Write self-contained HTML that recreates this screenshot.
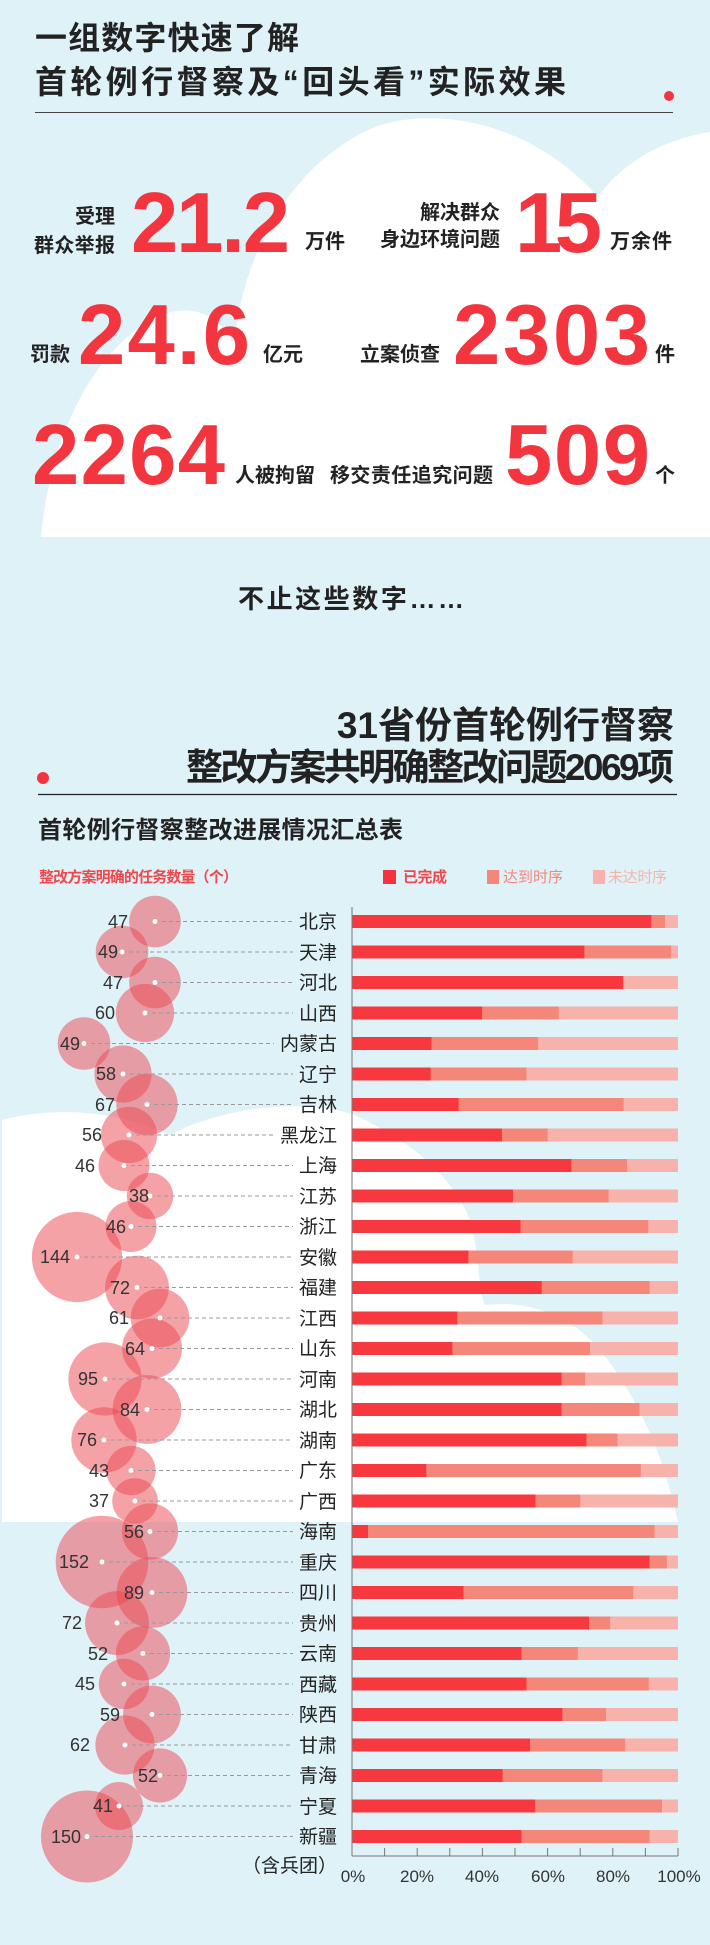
<!DOCTYPE html>
<html><head><meta charset="utf-8"><style>
html,body{margin:0;padding:0;background:#dff2f8}
svg{display:block}
text{font-family:"Liberation Sans","Noto Sans CJK SC",sans-serif}
.t{font-weight:bold;fill:#222}
.n{font-weight:bold;fill:#f2353f;font-size:85px}
.s{font-weight:bold;fill:#222;font-size:20px}
.p{font-size:19px;fill:#222;text-anchor:end}
.v{font-size:18px;fill:#333;text-anchor:end}
.ax{font-size:17px;fill:#333;text-anchor:middle}
</style></head><body>
<svg width="710" height="1945" viewBox="0 0 710 1945" xmlns="http://www.w3.org/2000/svg">
<rect width="710" height="1945" fill="#dff2f8"/>
<path fill="#fff" d="M41,537 C50,440 90,350 160,315 C190,305 215,310 235,345 C240,260 290,160 380,125 C450,105 540,130 598,197 C620,165 660,140 710,132 L710,537 Z"/>
<path fill="#fff" d="M2,1120 C60,1105 120,1112 170,1135 C220,1108 300,1098 352,1114 C400,1135 450,1170 470,1220 C480,1255 478,1290 485,1305 C530,1300 570,1315 600,1350 C640,1400 665,1460 678,1522 L2,1522 Z"/>

<text class="t" x="35" y="49" font-size="32" textLength="264">一组数字快速了解</text>
<text class="t" x="35" y="93" font-size="32" textLength="531">首轮例行督察及“回头看”实际效果</text>
<circle cx="669" cy="96" r="5" fill="#f2353f"/>
<line x1="35" y1="112.5" x2="673" y2="112.5" stroke="#444" stroke-width="1"/>

<text class="s" x="115" y="223" text-anchor="end">受理</text>
<text class="s" x="34" y="252" textLength="81">群众举报</text>
<text class="n" x="131" y="252" textLength="159">21.2</text>
<text class="s" x="305" y="248" textLength="40">万件</text>
<text class="s" x="500" y="219" text-anchor="end">解决群众</text>
<text class="s" x="380" y="246" textLength="120">身边环境问题</text>
<text class="n" x="515" y="252" textLength="87">15</text>
<text class="s" x="610" y="248" textLength="62">万余件</text>

<text class="s" x="30" y="361" textLength="40">罚款</text>
<text class="n" x="78" y="364" textLength="172">24.6</text>
<text class="s" x="263" y="361" textLength="40">亿元</text>
<text class="s" x="360" y="361" textLength="80">立案侦查</text>
<text class="n" x="453" y="364" textLength="197">2303</text>
<text class="s" x="655" y="361">件</text>

<text class="n" x="32" y="484" textLength="193">2264</text>
<text class="s" x="235" y="482" textLength="80">人被拘留</text>
<text class="s" x="330" y="482" textLength="163">移交责任追究问题</text>
<text class="n" x="505" y="484" textLength="145">509</text>
<text class="s" x="655" y="482">个</text>

<text class="t" x="238" y="608" font-size="26" textLength="226">不止这些数字……</text>

<text class="t" x="674" y="738" font-size="37" text-anchor="end" fill="#2a2a2a">31省份首轮例行督察</text>
<text class="t" x="186" y="780" font-size="37" textLength="488">整改方案共明确整改问题2069项</text>
<circle cx="43" cy="778" r="6" fill="#f2353f"/>
<line x1="38" y1="794.5" x2="677" y2="794.5" stroke="#222" stroke-width="1.2"/>

<text class="t" x="38" y="838" font-size="24" textLength="365">首轮例行督察整改进展情况汇总表</text>

<text x="39" y="882" font-size="15" font-weight="bold" fill="#f0474c" textLength="199">整改方案明确的任务数量（个）</text>
<rect x="383" y="870" width="13" height="14" fill="#f5333f"/>
<text x="403" y="882" font-size="15" font-weight="bold" fill="#f0474c" textLength="44">已完成</text>
<rect x="487" y="870" width="12" height="14" fill="#f5877a"/>
<text x="503" y="882" font-size="15" fill="#f5877a" textLength="60">达到时序</text>
<rect x="593" y="870" width="12" height="14" fill="#f7b3ab"/>
<text x="608" y="882" font-size="15" fill="#f7b3ab" textLength="59">未达时序</text>

<g fill="rgb(236,70,80)" fill-opacity="0.5">
<circle cx="155" cy="921.5" r="25.8"/>
<circle cx="122" cy="952" r="26.3"/>
<circle cx="155" cy="982.5" r="25.8"/>
<circle cx="145" cy="1013" r="29.1"/>
<circle cx="84" cy="1043.5" r="26.3"/>
<circle cx="123" cy="1074" r="28.6"/>
<circle cx="147" cy="1104.5" r="30.7"/>
<circle cx="129" cy="1135" r="28.1"/>
<circle cx="124" cy="1165.5" r="25.5"/>
<circle cx="150" cy="1196" r="23.2"/>
<circle cx="131" cy="1226.5" r="25.5"/>
<circle cx="77" cy="1257" r="45.1"/>
<circle cx="137" cy="1287.5" r="31.9"/>
<circle cx="160" cy="1318" r="29.3"/>
<circle cx="152" cy="1348.5" r="30"/>
<circle cx="105" cy="1379" r="36.6"/>
<circle cx="147" cy="1409.5" r="34.4"/>
<circle cx="104" cy="1440" r="32.7"/>
<circle cx="131" cy="1470.5" r="24.6"/>
<circle cx="135" cy="1501" r="22.8"/>
<circle cx="150" cy="1531.5" r="28.1"/>
<circle cx="102" cy="1562" r="46.3"/>
<circle cx="152" cy="1592.5" r="35.4"/>
<circle cx="117" cy="1623" r="31.9"/>
<circle cx="143" cy="1653.5" r="27.1"/>
<circle cx="124" cy="1684" r="25.2"/>
<circle cx="152" cy="1714.5" r="28.9"/>
<circle cx="125" cy="1745" r="29.6"/>
<circle cx="160" cy="1775.5" r="27.1"/>
<circle cx="119" cy="1806" r="24"/>
<circle cx="87" cy="1836.5" r="46"/>
</g>

<g stroke="#999" stroke-width="1" stroke-dasharray="4,3">
<line x1="155" y1="921.5" x2="293" y2="921.5"/>
<line x1="122" y1="952" x2="293" y2="952"/>
<line x1="155" y1="982.5" x2="293" y2="982.5"/>
<line x1="145" y1="1013" x2="293" y2="1013"/>
<line x1="84" y1="1043.5" x2="274" y2="1043.5"/>
<line x1="123" y1="1074" x2="293" y2="1074"/>
<line x1="147" y1="1104.5" x2="293" y2="1104.5"/>
<line x1="129" y1="1135" x2="274" y2="1135"/>
<line x1="124" y1="1165.5" x2="293" y2="1165.5"/>
<line x1="150" y1="1196" x2="293" y2="1196"/>
<line x1="131" y1="1226.5" x2="293" y2="1226.5"/>
<line x1="77" y1="1257" x2="293" y2="1257"/>
<line x1="137" y1="1287.5" x2="293" y2="1287.5"/>
<line x1="160" y1="1318" x2="293" y2="1318"/>
<line x1="152" y1="1348.5" x2="293" y2="1348.5"/>
<line x1="105" y1="1379" x2="293" y2="1379"/>
<line x1="147" y1="1409.5" x2="293" y2="1409.5"/>
<line x1="104" y1="1440" x2="293" y2="1440"/>
<line x1="131" y1="1470.5" x2="293" y2="1470.5"/>
<line x1="135" y1="1501" x2="293" y2="1501"/>
<line x1="150" y1="1531.5" x2="293" y2="1531.5"/>
<line x1="102" y1="1562" x2="293" y2="1562"/>
<line x1="152" y1="1592.5" x2="293" y2="1592.5"/>
<line x1="117" y1="1623" x2="293" y2="1623"/>
<line x1="143" y1="1653.5" x2="293" y2="1653.5"/>
<line x1="124" y1="1684" x2="293" y2="1684"/>
<line x1="152" y1="1714.5" x2="293" y2="1714.5"/>
<line x1="125" y1="1745" x2="293" y2="1745"/>
<line x1="160" y1="1775.5" x2="293" y2="1775.5"/>
<line x1="119" y1="1806" x2="293" y2="1806"/>
<line x1="87" y1="1836.5" x2="293" y2="1836.5"/>
</g>

<g fill="#fff">
<circle cx="155" cy="921.5" r="2.5"/><circle cx="122" cy="952" r="2.5"/><circle cx="155" cy="982.5" r="2.5"/><circle cx="145" cy="1013" r="2.5"/><circle cx="84" cy="1043.5" r="2.5"/><circle cx="123" cy="1074" r="2.5"/><circle cx="147" cy="1104.5" r="2.5"/><circle cx="129" cy="1135" r="2.5"/><circle cx="124" cy="1165.5" r="2.5"/><circle cx="150" cy="1196" r="2.5"/><circle cx="131" cy="1226.5" r="2.5"/><circle cx="77" cy="1257" r="2.5"/><circle cx="137" cy="1287.5" r="2.5"/><circle cx="160" cy="1318" r="2.5"/><circle cx="152" cy="1348.5" r="2.5"/><circle cx="105" cy="1379" r="2.5"/><circle cx="147" cy="1409.5" r="2.5"/><circle cx="104" cy="1440" r="2.5"/><circle cx="131" cy="1470.5" r="2.5"/><circle cx="135" cy="1501" r="2.5"/><circle cx="150" cy="1531.5" r="2.5"/><circle cx="102" cy="1562" r="2.5"/><circle cx="152" cy="1592.5" r="2.5"/><circle cx="117" cy="1623" r="2.5"/><circle cx="143" cy="1653.5" r="2.5"/><circle cx="124" cy="1684" r="2.5"/><circle cx="152" cy="1714.5" r="2.5"/><circle cx="125" cy="1745" r="2.5"/><circle cx="160" cy="1775.5" r="2.5"/><circle cx="119" cy="1806" r="2.5"/><circle cx="87" cy="1836.5" r="2.5"/>
</g>

<g>
<text class="v" x="128" y="928">47</text>
<text class="v" x="118" y="958">49</text>
<text class="v" x="123" y="989">47</text>
<text class="v" x="115" y="1019">60</text>
<text class="v" x="80" y="1050">49</text>
<text class="v" x="116" y="1080">58</text>
<text class="v" x="115" y="1111">67</text>
<text class="v" x="102" y="1141">56</text>
<text class="v" x="95" y="1172">46</text>
<text class="v" x="149" y="1202">38</text>
<text class="v" x="126" y="1233">46</text>
<text class="v" x="70" y="1263">144</text>
<text class="v" x="130" y="1294">72</text>
<text class="v" x="129" y="1324">61</text>
<text class="v" x="145" y="1355">64</text>
<text class="v" x="98" y="1385">95</text>
<text class="v" x="140" y="1416">84</text>
<text class="v" x="97" y="1446">76</text>
<text class="v" x="109" y="1477">43</text>
<text class="v" x="109" y="1507">37</text>
<text class="v" x="144" y="1538">56</text>
<text class="v" x="89" y="1568">152</text>
<text class="v" x="144" y="1599">89</text>
<text class="v" x="82" y="1629">72</text>
<text class="v" x="108" y="1660">52</text>
<text class="v" x="95" y="1690">45</text>
<text class="v" x="120" y="1721">59</text>
<text class="v" x="90" y="1751">62</text>
<text class="v" x="158" y="1782">52</text>
<text class="v" x="113" y="1812">41</text>
<text class="v" x="81" y="1843">150</text>
</g>

<g>
<text class="p" x="337" y="928">北京</text>
<text class="p" x="337" y="959">天津</text>
<text class="p" x="337" y="989">河北</text>
<text class="p" x="337" y="1020">山西</text>
<text class="p" x="337" y="1050">内蒙古</text>
<text class="p" x="337" y="1081">辽宁</text>
<text class="p" x="337" y="1111">吉林</text>
<text class="p" x="337" y="1142">黑龙江</text>
<text class="p" x="337" y="1172">上海</text>
<text class="p" x="337" y="1203">江苏</text>
<text class="p" x="337" y="1233">浙江</text>
<text class="p" x="337" y="1264">安徽</text>
<text class="p" x="337" y="1294">福建</text>
<text class="p" x="337" y="1325">江西</text>
<text class="p" x="337" y="1355">山东</text>
<text class="p" x="337" y="1386">河南</text>
<text class="p" x="337" y="1416">湖北</text>
<text class="p" x="337" y="1447">湖南</text>
<text class="p" x="337" y="1477">广东</text>
<text class="p" x="337" y="1508">广西</text>
<text class="p" x="337" y="1538">海南</text>
<text class="p" x="337" y="1569">重庆</text>
<text class="p" x="337" y="1599">四川</text>
<text class="p" x="337" y="1630">贵州</text>
<text class="p" x="337" y="1660">云南</text>
<text class="p" x="337" y="1691">西藏</text>
<text class="p" x="337" y="1721">陕西</text>
<text class="p" x="337" y="1752">甘肃</text>
<text class="p" x="337" y="1782">青海</text>
<text class="p" x="337" y="1813">宁夏</text>
<text class="p" x="337" y="1843">新疆</text>
<text class="p" x="337" y="1872">（含兵团）</text>
</g>

<g fill="#f7b3ab">
<rect x="352" y="915" width="326" height="13"/><rect x="352" y="945.5" width="326" height="13"/><rect x="352" y="976" width="326" height="13"/><rect x="352" y="1006.5" width="326" height="13"/><rect x="352" y="1037" width="326" height="13"/><rect x="352" y="1067.5" width="326" height="13"/><rect x="352" y="1098" width="326" height="13"/><rect x="352" y="1128.5" width="326" height="13"/><rect x="352" y="1159" width="326" height="13"/><rect x="352" y="1189.5" width="326" height="13"/><rect x="352" y="1220" width="326" height="13"/><rect x="352" y="1250.5" width="326" height="13"/><rect x="352" y="1281" width="326" height="13"/><rect x="352" y="1311.5" width="326" height="13"/><rect x="352" y="1342" width="326" height="13"/><rect x="352" y="1372.5" width="326" height="13"/><rect x="352" y="1403" width="326" height="13"/><rect x="352" y="1433.5" width="326" height="13"/><rect x="352" y="1464" width="326" height="13"/><rect x="352" y="1494.5" width="326" height="13"/><rect x="352" y="1525" width="326" height="13"/><rect x="352" y="1555.5" width="326" height="13"/><rect x="352" y="1586" width="326" height="13"/><rect x="352" y="1616.5" width="326" height="13"/><rect x="352" y="1647" width="326" height="13"/><rect x="352" y="1677.5" width="326" height="13"/><rect x="352" y="1708" width="326" height="13"/><rect x="352" y="1738.5" width="326" height="13"/><rect x="352" y="1769" width="326" height="13"/><rect x="352" y="1799.5" width="326" height="13"/><rect x="352" y="1830" width="326" height="13"/>
</g>
<g fill="#f5877a">
<rect x="352" y="915" width="313" height="13"/><rect x="352" y="945.5" width="319.2" height="13"/><rect x="352" y="976" width="271.2" height="13"/><rect x="352" y="1006.5" width="206.7" height="13"/><rect x="352" y="1037" width="186.1" height="13"/><rect x="352" y="1067.5" width="174.4" height="13"/><rect x="352" y="1098" width="271.6" height="13"/><rect x="352" y="1128.5" width="195.6" height="13"/><rect x="352" y="1159" width="275.1" height="13"/><rect x="352" y="1189.5" width="256.6" height="13"/><rect x="352" y="1220" width="296.3" height="13"/><rect x="352" y="1250.5" width="220.7" height="13"/><rect x="352" y="1281" width="297.6" height="13"/><rect x="352" y="1311.5" width="250.4" height="13"/><rect x="352" y="1342" width="238" height="13"/><rect x="352" y="1372.5" width="233.1" height="13"/><rect x="352" y="1403" width="287.5" height="13"/><rect x="352" y="1433.5" width="265.4" height="13"/><rect x="352" y="1464" width="288.8" height="13"/><rect x="352" y="1494.5" width="228.2" height="13"/><rect x="352" y="1525" width="302.5" height="13"/><rect x="352" y="1555.5" width="314.9" height="13"/><rect x="352" y="1586" width="281.3" height="13"/><rect x="352" y="1616.5" width="258.2" height="13"/><rect x="352" y="1647" width="225.9" height="13"/><rect x="352" y="1677.5" width="296.7" height="13"/><rect x="352" y="1708" width="254" height="13"/><rect x="352" y="1738.5" width="273.2" height="13"/><rect x="352" y="1769" width="250.4" height="13"/><rect x="352" y="1799.5" width="310" height="13"/><rect x="352" y="1830" width="297.6" height="13"/>
</g>
<g fill="#f8383f">
<rect x="352" y="915" width="299.3" height="13"/><rect x="352" y="945.5" width="232.4" height="13"/><rect x="352" y="976" width="271.2" height="13"/><rect x="352" y="1006.5" width="130.1" height="13"/><rect x="352" y="1037" width="79.5" height="13"/><rect x="352" y="1067.5" width="78.6" height="13"/><rect x="352" y="1098" width="106.6" height="13"/><rect x="352" y="1128.5" width="150" height="13"/><rect x="352" y="1159" width="219.4" height="13"/><rect x="352" y="1189.5" width="161" height="13"/><rect x="352" y="1220" width="168.5" height="13"/><rect x="352" y="1250.5" width="116.4" height="13"/><rect x="352" y="1281" width="189.7" height="13"/><rect x="352" y="1311.5" width="105.3" height="13"/><rect x="352" y="1342" width="100.4" height="13"/><rect x="352" y="1372.5" width="209.6" height="13"/><rect x="352" y="1403" width="209.6" height="13"/><rect x="352" y="1433.5" width="234.4" height="13"/><rect x="352" y="1464" width="74.3" height="13"/><rect x="352" y="1494.5" width="183.5" height="13"/><rect x="352" y="1525" width="16" height="13"/><rect x="352" y="1555.5" width="297.6" height="13"/><rect x="352" y="1586" width="111.5" height="13"/><rect x="352" y="1616.5" width="237" height="13"/><rect x="352" y="1647" width="169.5" height="13"/><rect x="352" y="1677.5" width="174.4" height="13"/><rect x="352" y="1708" width="210.3" height="13"/><rect x="352" y="1738.5" width="178" height="13"/><rect x="352" y="1769" width="150.6" height="13"/><rect x="352" y="1799.5" width="183.2" height="13"/><rect x="352" y="1830" width="169.5" height="13"/>
</g>

<g stroke="#777" stroke-width="1">
<line x1="352" y1="907" x2="352" y2="1856"/>
<line x1="352" y1="1856" x2="678" y2="1856"/>
<line x1="384.6" y1="1848" x2="384.6" y2="1856"/><line x1="417.2" y1="1848" x2="417.2" y2="1856"/><line x1="449.8" y1="1848" x2="449.8" y2="1856"/><line x1="482.4" y1="1848" x2="482.4" y2="1856"/><line x1="515" y1="1848" x2="515" y2="1856"/><line x1="547.6" y1="1848" x2="547.6" y2="1856"/><line x1="580.2" y1="1848" x2="580.2" y2="1856"/><line x1="612.8" y1="1848" x2="612.8" y2="1856"/><line x1="645.4" y1="1848" x2="645.4" y2="1856"/><line x1="678" y1="1848" x2="678" y2="1856"/>
</g>
<text class="ax" x="353" y="1882">0%</text>
<text class="ax" x="417" y="1882">20%</text>
<text class="ax" x="482" y="1882">40%</text>
<text class="ax" x="548" y="1882">60%</text>
<text class="ax" x="613" y="1882">80%</text>
<text class="ax" x="679" y="1882">100%</text>
</svg>
</body></html>
